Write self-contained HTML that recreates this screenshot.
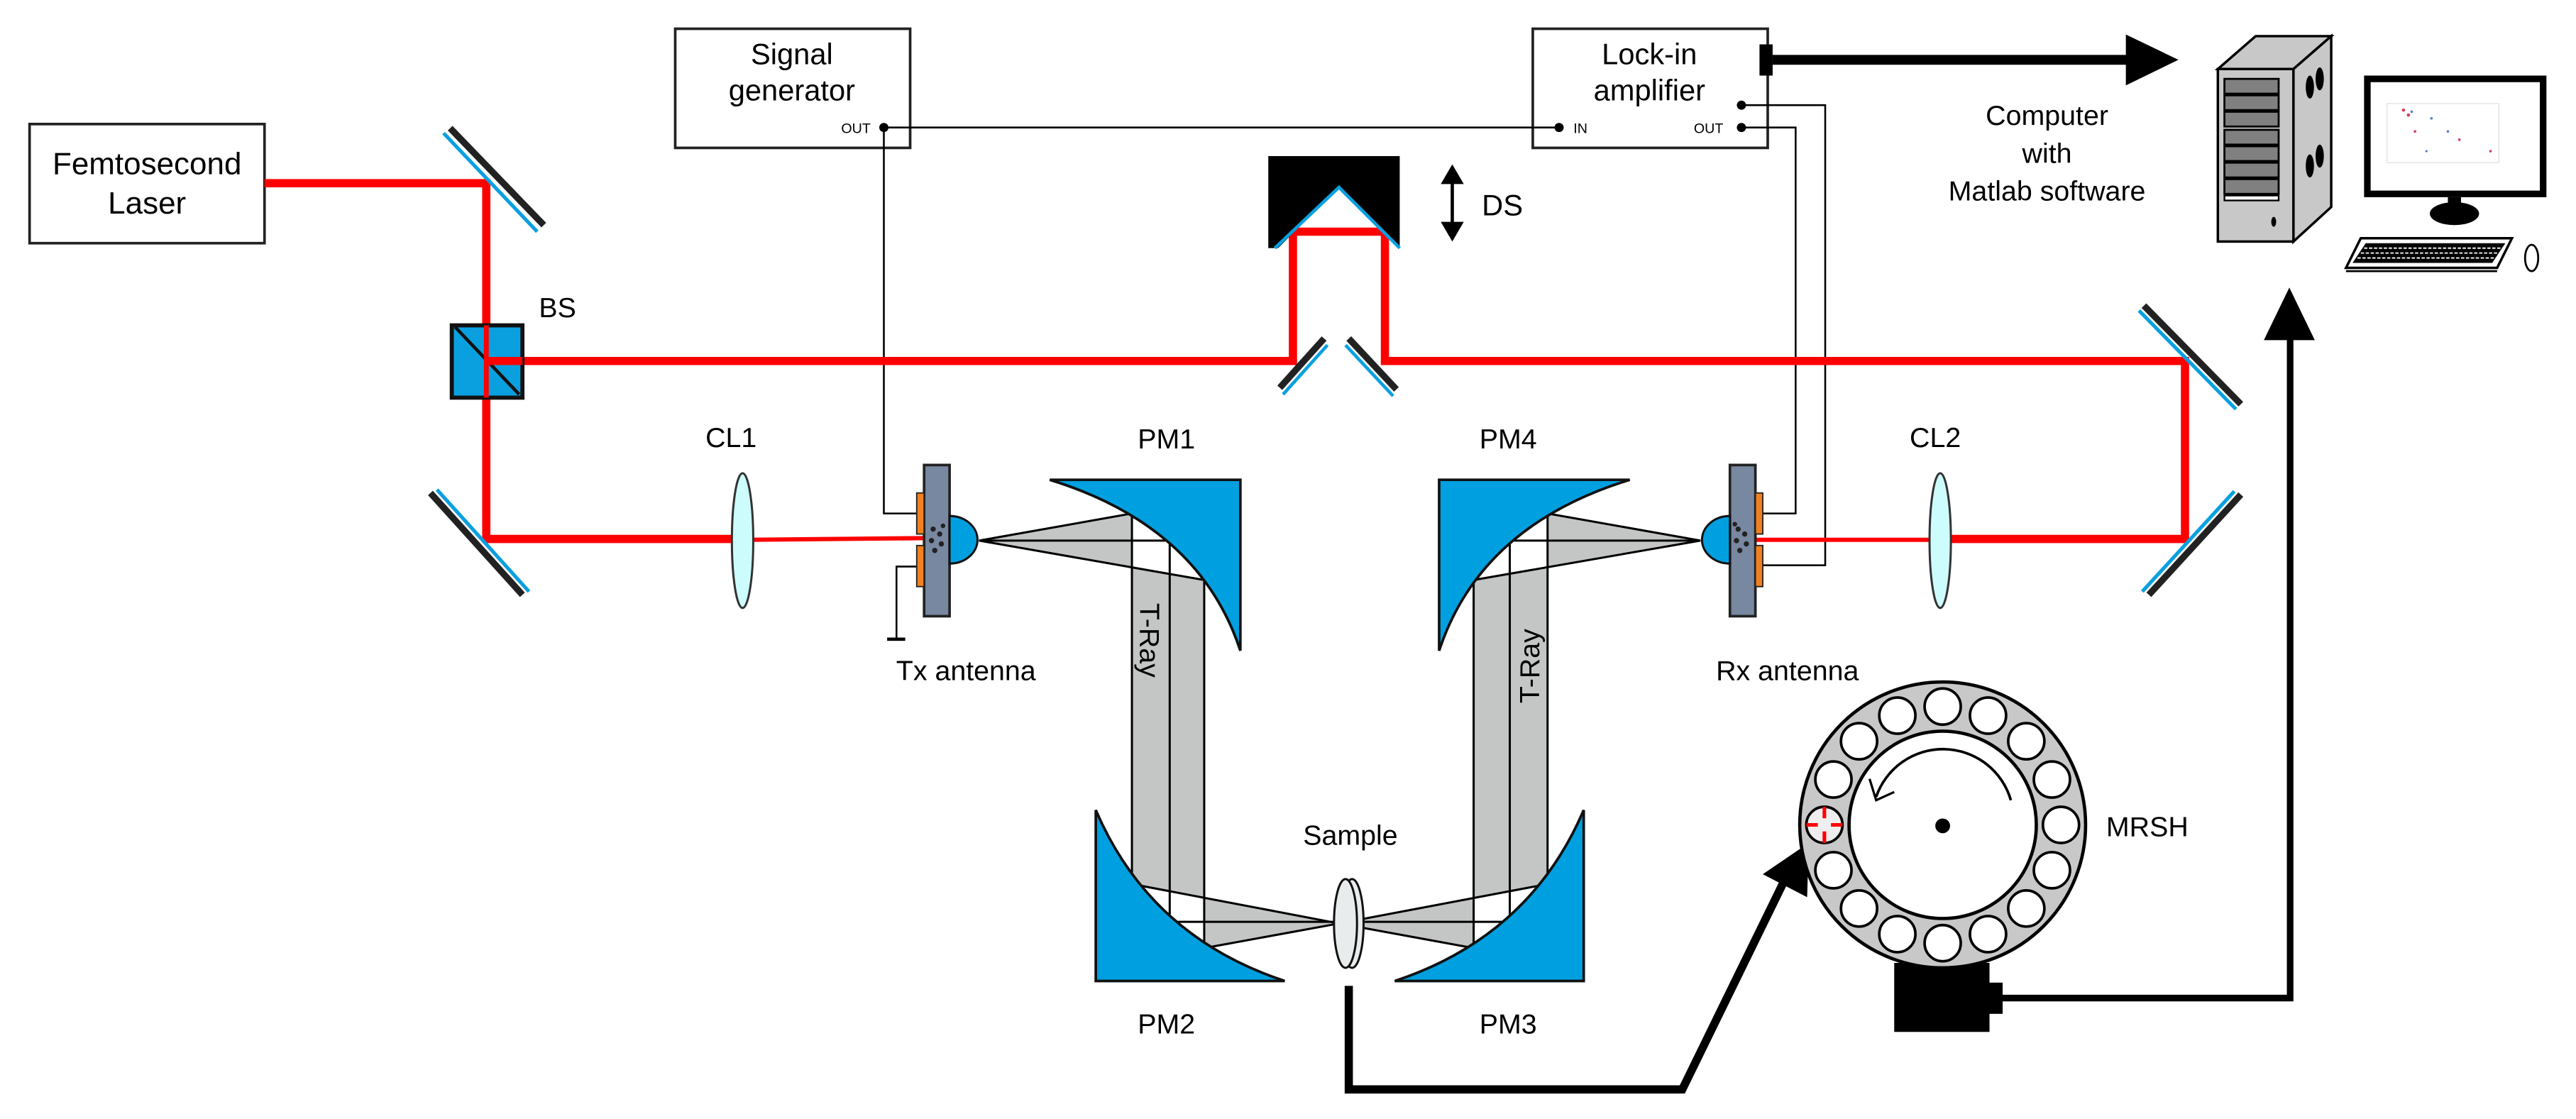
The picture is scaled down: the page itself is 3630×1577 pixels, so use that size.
<!DOCTYPE html>
<html><head><meta charset="utf-8"><style>
html,body{margin:0;padding:0;background:#fff;}
svg{display:block;}
text{font-family:"Liberation Sans",Arial,sans-serif;fill:#000;}
</style></head><body>
<svg width="3630" height="1577" viewBox="0 0 1568 681" preserveAspectRatio="none" xmlns="http://www.w3.org/2000/svg">
<rect width="1568" height="681" fill="#fff"/>

<!-- Laser box -->
<rect x="18" y="75.5" width="143" height="72.5" fill="#fff" stroke="#222" stroke-width="1.6"/>
<text x="89.5" y="106" font-size="19" text-anchor="middle">Femtosecond</text>
<text x="89.5" y="130" font-size="19" text-anchor="middle">Laser</text>

<!-- Signal generator -->
<rect x="411" y="17.5" width="143" height="72.5" fill="#fff" stroke="#222" stroke-width="1.6"/>
<text x="482" y="39" font-size="18" text-anchor="middle">Signal</text>
<text x="482" y="61" font-size="18" text-anchor="middle">generator</text>
<text x="521" y="81" font-size="8.5" text-anchor="middle">OUT</text>

<!-- Lock-in -->
<rect x="933" y="17.5" width="143" height="72.5" fill="#fff" stroke="#222" stroke-width="1.6"/>
<text x="1004" y="39" font-size="18" text-anchor="middle">Lock-in</text>
<text x="1004" y="61" font-size="18" text-anchor="middle">amplifier</text>
<text x="962" y="81" font-size="8.5" text-anchor="middle">IN</text>
<text x="1040" y="81" font-size="8.5" text-anchor="middle">OUT</text>
<rect x="1071" y="27" width="8" height="19" fill="#000"/>
<line x1="1079" y1="36.4" x2="1296" y2="36.4" stroke="#000" stroke-width="6"/>
<polygon points="1294,21 1326,36.4 1294,52" fill="#000"/>

<!-- wires -->
<g fill="none" stroke="#000" stroke-width="1.1">
<line x1="538" y1="77.6" x2="949" y2="77.6"/>
<polyline points="538,77.6 538,312.5 558,312.5"/>
<polyline points="558,344.8 545.7,344.8 545.7,388"/>
<line x1="540" y1="389" x2="551" y2="389" stroke-width="2"/>
<polyline points="1060,64 1111,64 1111,344 1069,344"/>
<polyline points="1060,77.6 1093,77.6 1093,312.5 1069,312.5"/>
</g>
<circle cx="538" cy="77.6" r="2.8" fill="#000"/>
<circle cx="949" cy="77.6" r="2.8" fill="#000"/>
<circle cx="1060" cy="77.6" r="2.8" fill="#000"/>
<circle cx="1060" cy="64" r="2.8" fill="#000"/>

<!-- Red beams -->
<g fill="none" stroke="#f00" stroke-width="5">
<polyline points="161,111.5 296,111.5 296,328 450,328"/>
<polyline points="318,219.7 787,219.7 787,141 843,141 843,219.7 1330,219.7 1330,328 1185,328"/>
</g>
<line x1="455" y1="328.5" x2="562" y2="327.5" stroke="#f00" stroke-width="2.6"/>
<line x1="1069" y1="328.5" x2="1180" y2="328.5" stroke="#f00" stroke-width="2.6"/>

<!-- Mirrors -->
<g stroke-linecap="butt">
<line x1="274" y1="78" x2="331" y2="137" stroke="#222" stroke-width="4"/>
<line x1="270" y1="81" x2="327" y2="141" stroke="#0aa0e0" stroke-width="2.2"/>
<line x1="262" y1="300" x2="318" y2="362" stroke="#222" stroke-width="4"/>
<line x1="266" y1="298" x2="322" y2="360" stroke="#0aa0e0" stroke-width="2.2"/>
<line x1="1305" y1="186" x2="1364" y2="246" stroke="#222" stroke-width="4"/>
<line x1="1302" y1="189" x2="1361" y2="249" stroke="#0aa0e0" stroke-width="2.2"/>
<line x1="1364" y1="301" x2="1308" y2="362" stroke="#222" stroke-width="4"/>
<line x1="1360" y1="299" x2="1304" y2="360" stroke="#0aa0e0" stroke-width="2.2"/>
<line x1="806" y1="206" x2="779" y2="236" stroke="#222" stroke-width="4"/>
<line x1="808" y1="210" x2="781" y2="240" stroke="#0aa0e0" stroke-width="2"/>
<line x1="821" y1="206" x2="850" y2="237" stroke="#222" stroke-width="4"/>
<line x1="819" y1="210" x2="848" y2="241" stroke="#0aa0e0" stroke-width="2"/>
</g>

<!-- BS -->
<rect x="275" y="198" width="43" height="44" fill="#0aa0e0" stroke="#111" stroke-width="2.5"/>
<line x1="277" y1="199" x2="316" y2="240" stroke="#111" stroke-width="2"/>
<line x1="296" y1="198" x2="296" y2="242" stroke="#f00" stroke-width="3"/>
<line x1="296" y1="219.7" x2="318" y2="219.7" stroke="#f00" stroke-width="5"/>
<text x="328" y="193" font-size="17">BS</text>

<!-- Delay stage -->
<polygon points="772,95 852,95 852,151 815,114 778,151 772,151" fill="#000"/>
<polyline points="776,151 815,114 852,151" fill="none" stroke="#0aa0e0" stroke-width="2"/>
<line x1="884" y1="104" x2="884" y2="143" stroke="#000" stroke-width="2"/>
<polygon points="877,112 884,100 891,112" fill="#000"/>
<polygon points="877,135 884,147 891,135" fill="#000"/>
<text x="902" y="131" font-size="18">DS</text>

<!-- Lenses -->
<ellipse cx="452" cy="329" rx="6.5" ry="41" fill="#cdfcfc" stroke="#333" stroke-width="1.3"/>
<ellipse cx="1181" cy="329" rx="6.5" ry="41" fill="#cdfcfc" stroke="#333" stroke-width="1.3"/>
<text x="445" y="272" font-size="17" text-anchor="middle">CL1</text>
<text x="1178" y="272" font-size="17" text-anchor="middle">CL2</text>

<!-- T-ray gray beams -->
<g stroke="#000" stroke-width="1.3" fill="#c4c6c6">
<polygon points="596,329 689,312.5 689,538 815,562 733,577 733,353"/>
<polygon points="1035,329 942,312.5 942,538 815,562 897,577 897,353"/>
</g>
<g stroke="#000" stroke-width="1.3" fill="none">
<line x1="596" y1="329" x2="712" y2="329"/>
<line x1="712" y1="329" x2="712" y2="561"/>
<line x1="712" y1="561" x2="815" y2="561"/>
<line x1="1035" y1="329" x2="919" y2="329"/>
<line x1="919" y1="329" x2="919" y2="561"/>
<line x1="919" y1="561" x2="815" y2="561"/>
</g>

<!-- Parabolic mirrors -->
<g fill="#00a0e0" stroke="#111" stroke-width="1.6">
<path d="M639,292 L755,292 L755,396 Q730,320 639,292 Z"/>
<path d="M667,493 L667,597 L782,597 Q700,570 667,493 Z"/>
<path d="M992,292 L876,292 L876,396 Q901,320 992,292 Z"/>
<path d="M964,493 L964,597 L849,597 Q931,570 964,493 Z"/>
</g>
<text x="710" y="273" font-size="17" text-anchor="middle">PM1</text>
<text x="918" y="273" font-size="17" text-anchor="middle">PM4</text>
<text x="710" y="629" font-size="17" text-anchor="middle">PM2</text>
<text x="918" y="629" font-size="17" text-anchor="middle">PM3</text>
<text x="0" y="0" font-size="17" transform="translate(694,367) rotate(90)">T-Ray</text>
<text x="0" y="0" font-size="17" transform="translate(937,428) rotate(-90)">T-Ray</text>

<!-- Sample -->
<ellipse cx="823" cy="562" rx="7" ry="27" fill="#e8ecec" stroke="#111" stroke-width="1.3"/>
<ellipse cx="819" cy="562" rx="7" ry="27" fill="#e8ecec" stroke="#111" stroke-width="1.3"/>
<text x="822" y="514" font-size="17" text-anchor="middle">Sample</text>

<!-- Tx antenna -->
<rect x="562.5" y="283" width="15.5" height="92" fill="#7888a0" stroke="#222" stroke-width="1.6"/>
<rect x="558" y="300" width="4.5" height="25" fill="#f08020" stroke="#222" stroke-width="0.8"/>
<rect x="558" y="332" width="4.5" height="25" fill="#f08020" stroke="#222" stroke-width="0.8"/>
<path d="M578,314 A17,14.5 0 0 1 578,343 Z" fill="#00a0e0" stroke="#111" stroke-width="1.3"/>
<g fill="#222"><circle cx="568" cy="322" r="1.6"/><circle cx="572" cy="325" r="1.6"/><circle cx="567" cy="329" r="1.6"/><circle cx="573" cy="331" r="1.6"/><circle cx="569" cy="335" r="1.6"/><circle cx="574" cy="320" r="1.4"/></g>
<text x="588" y="414" font-size="17" text-anchor="middle">Tx antenna</text>

<!-- Rx antenna -->
<rect x="1053" y="283" width="15.5" height="92" fill="#7888a0" stroke="#222" stroke-width="1.6"/>
<rect x="1068.5" y="300" width="4.5" height="25" fill="#f08020" stroke="#222" stroke-width="0.8"/>
<rect x="1068.5" y="332" width="4.5" height="25" fill="#f08020" stroke="#222" stroke-width="0.8"/>
<path d="M1053,314 A17,14.5 0 0 0 1053,343 Z" fill="#00a0e0" stroke="#111" stroke-width="1.3"/>
<g fill="#222"><circle cx="1058" cy="322" r="1.6"/><circle cx="1062" cy="325" r="1.6"/><circle cx="1057" cy="329" r="1.6"/><circle cx="1063" cy="331" r="1.6"/><circle cx="1059" cy="335" r="1.6"/><circle cx="1056" cy="319" r="1.4"/></g>
<text x="1088" y="414" font-size="17" text-anchor="middle">Rx antenna</text>

<!-- Thick line sample to MRSH -->
<polyline points="821,600 821,663 1024,663 1090,528" fill="none" stroke="#000" stroke-width="5"/>
<polygon points="1101,513 1073,532 1100,546" fill="#000"/>

<!-- MRSH -->
<rect x="1153" y="586" width="58" height="42" fill="#000"/>
<rect x="1209" y="598" width="10" height="19" fill="#000"/>
<polyline points="1219,607.4 1394,607.4 1394,204" fill="none" stroke="#000" stroke-width="4"/>
<polygon points="1378,207 1393.5,175 1409,207" fill="#000"/>
<circle cx="1182.5" cy="502" r="87" fill="#c8c8c8" stroke="#000" stroke-width="2"/>
<circle cx="1182.5" cy="502" r="57" fill="#fff" stroke="#000" stroke-width="2"/>
<g fill="#fff" stroke="#000" stroke-width="1.6">
<circle cx="1254.5" cy="502" r="11"/>
<circle cx="1249" cy="474.4" r="11"/>
<circle cx="1233.4" cy="451.1" r="11"/>
<circle cx="1210.1" cy="435.5" r="11"/>
<circle cx="1182.5" cy="430" r="11"/>
<circle cx="1154.9" cy="435.5" r="11"/>
<circle cx="1131.6" cy="451.1" r="11"/>
<circle cx="1116" cy="474.4" r="11"/>
<circle cx="1110.5" cy="502" r="11" fill="#eee"/>
<circle cx="1116" cy="529.6" r="11"/>
<circle cx="1131.6" cy="552.9" r="11"/>
<circle cx="1154.9" cy="568.5" r="11"/>
<circle cx="1182.5" cy="574" r="11"/>
<circle cx="1210.1" cy="568.5" r="11"/>
<circle cx="1233.4" cy="552.9" r="11"/>
<circle cx="1249" cy="529.6" r="11"/>
</g>
<g stroke="#f00" stroke-width="2.2">
<line x1="1110.5" y1="491" x2="1110.5" y2="498"/><line x1="1110.5" y1="506" x2="1110.5" y2="513"/>
<line x1="1099.5" y1="502" x2="1106.5" y2="502"/><line x1="1114.5" y1="502" x2="1121.5" y2="502"/>
</g>
<circle cx="1182.5" cy="502.6" r="4.5" fill="#000"/>
<path d="M1224,487 A43,43 0 0 0 1142,485" fill="none" stroke="#000" stroke-width="1.6"/>
<polyline points="1138,474 1142,487 1153,482" fill="none" stroke="#000" stroke-width="1.4"/>
<text x="1282" y="509" font-size="17">MRSH</text>

<!-- Computer text -->
<text x="1246" y="76" font-size="17" text-anchor="middle">Computer</text>
<text x="1246" y="99" font-size="17" text-anchor="middle">with</text>
<text x="1246" y="122" font-size="17" text-anchor="middle">Matlab software</text>

<!-- Tower -->
<polygon points="1350,42 1373,22 1419,22 1396,42" fill="#c8c8c8" stroke="#000" stroke-width="1.5"/>
<polygon points="1396,42 1419,22 1419,126 1396,147" fill="#c8c8c8" stroke="#000" stroke-width="1.5"/>
<rect x="1350" y="42" width="46" height="105" fill="#c8c8c8" stroke="#000" stroke-width="1.5"/>
<g fill="#808080" stroke="#000" stroke-width="1.2">
<rect x="1354" y="48" width="33" height="9"/><rect x="1354" y="58" width="33" height="9"/><rect x="1354" y="68" width="33" height="9"/><rect x="1354" y="79" width="33" height="9"/><rect x="1354" y="89" width="33" height="9"/><rect x="1354" y="99" width="33" height="9"/><rect x="1354" y="109" width="33" height="9"/>
</g>
<rect x="1354" y="119" width="33" height="3" fill="#fff" stroke="#000" stroke-width="1"/>
<ellipse cx="1384" cy="135" rx="1.5" ry="3" fill="#000"/>
<ellipse cx="1406" cy="53" rx="2.5" ry="7" fill="#000"/><ellipse cx="1412" cy="48" rx="2.5" ry="7" fill="#000"/>
<ellipse cx="1406" cy="101" rx="2.5" ry="7" fill="#000"/><ellipse cx="1412" cy="95" rx="2.5" ry="7" fill="#000"/>

<!-- Monitor -->
<rect x="1439" y="46" width="111" height="74" fill="#000"/>
<rect x="1443" y="50" width="103" height="66" fill="#fff"/>
<rect x="1453" y="63" width="68" height="36" fill="none" stroke="#ddd" stroke-width="0.5"/>
<g fill="#d04060"><circle cx="1463" cy="67" r="1"/><circle cx="1466" cy="70" r="1"/><circle cx="1470" cy="80" r="0.8"/><circle cx="1497" cy="85" r="0.8"/><circle cx="1516" cy="92" r="0.8"/></g>
<g fill="#6080d0"><circle cx="1468" cy="68" r="0.8"/><circle cx="1480" cy="72" r="0.8"/><circle cx="1490" cy="80" r="0.8"/><circle cx="1477" cy="92" r="0.7"/></g>
<rect x="1490" y="120" width="8" height="4" fill="#000"/>
<ellipse cx="1494" cy="130" rx="15" ry="7" fill="#000"/>
<!-- Keyboard -->
<polygon points="1437,145 1529,145 1520,163 1428,163" fill="#fff" stroke="#000" stroke-width="1.5"/>
<polygon points="1440,148 1525,148 1517,160 1432,160" fill="#000"/>
<g stroke="#fff" stroke-width="0.8">
<line x1="1439" y1="151" x2="1524" y2="151" stroke-dasharray="2 1"/>
<line x1="1437" y1="154" x2="1522" y2="154" stroke-dasharray="2 1"/>
<line x1="1435" y1="157" x2="1520" y2="157" stroke-dasharray="2 1"/>
</g>
<line x1="1428" y1="165" x2="1520" y2="165" stroke="#000" stroke-width="1.2"/>
<ellipse cx="1541" cy="157" rx="4" ry="8" fill="#fff" stroke="#000" stroke-width="1.2"/>
</svg>
</body></html>
